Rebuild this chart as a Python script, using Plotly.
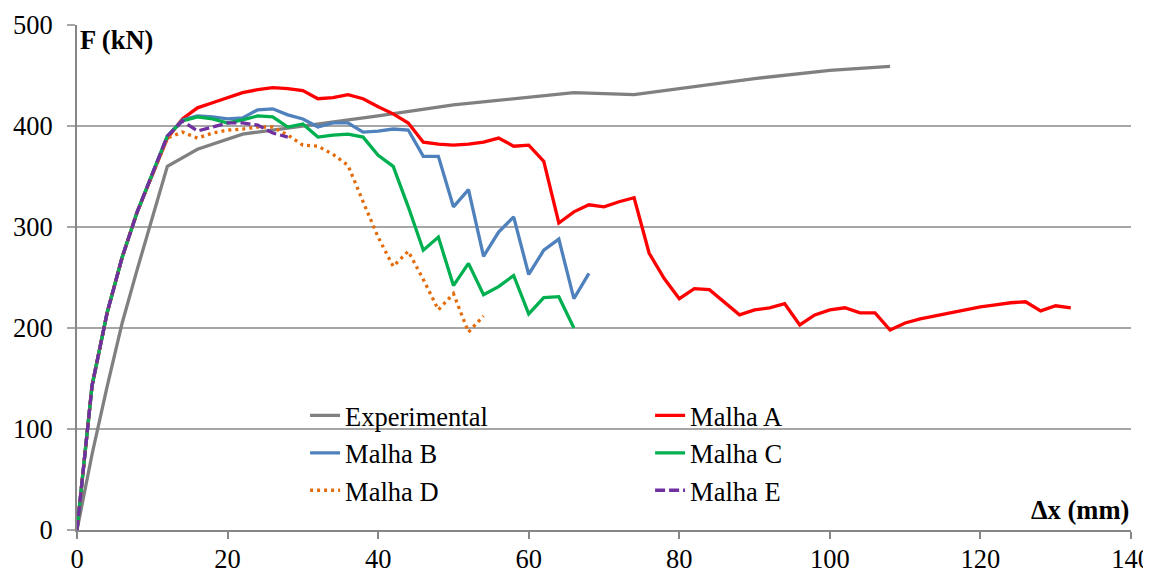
import plotly.graph_objects as go

# ---------------- data ----------------
exp_x = [0, 2, 4, 6, 8, 10, 12, 16, 20, 22, 26, 30, 40, 50, 60, 66, 74, 80, 90, 100, 108]
exp_y = [0, 75, 142, 205, 258, 308, 360, 377, 387, 392, 396, 400, 410, 421, 429, 433, 431, 437, 447, 455, 459]

a_x = [0, 2, 4, 6, 8, 10, 12, 14, 16, 18, 20, 22, 24, 26, 28, 30, 32, 34, 36, 38, 40,
       42, 44, 46, 48, 50, 52, 54, 56, 58, 60, 62, 64, 66, 68, 70, 72, 74, 76, 78, 80,
       82, 84, 86, 88, 90, 92, 94, 96, 98, 100, 102, 104, 106, 108, 110, 112, 114, 116,
       118, 120, 122, 124, 126, 128, 130, 132]
a_y = [0, 143, 215, 270, 315, 352, 388, 407, 418, 423, 428, 433, 436, 438, 437, 435, 427, 428, 431, 427, 419,
       412, 403, 384, 382, 381, 382, 384, 388, 380, 381, 365, 304, 315, 322, 320, 325, 329, 274, 249, 229,
       239, 238, 225, 213, 218, 220, 224, 203, 213, 218, 220, 215, 215, 198, 205, 209, 212, 215,
       218, 221, 223, 225, 226, 217, 222, 220]

b_x = [0, 2, 4, 6, 8, 10, 12, 14, 16, 18, 20, 22, 24, 26, 28, 30, 32, 34, 36, 38, 40,
       42, 44, 46, 48, 50, 52, 54, 56, 58, 60, 62, 64, 66, 68]
b_y = [0, 143, 215, 270, 315, 352, 390, 406, 410, 409, 407, 408, 416, 417, 411, 407, 399, 403, 403, 394, 395,
       397, 396, 370, 370, 320, 337, 271, 295, 310, 253, 277, 288, 229, 254]

c_x = [0, 2, 4, 6, 8, 10, 12, 14, 16, 18, 20, 22, 24, 26, 28, 30, 32, 34, 36, 38, 40,
       42, 44, 46, 48, 50, 52, 54, 56, 58, 60, 62, 64, 66]
c_y = [0, 143, 215, 270, 315, 352, 390, 405, 409, 407, 403, 406, 410, 409, 399, 402, 389, 391, 392, 389, 371,
       360, 320, 277, 290, 242, 264, 233, 241, 252, 214, 230, 231, 200]

d_x = [0, 2, 4, 6, 8, 10, 12, 14, 16, 18, 20, 22, 24, 26, 28, 30, 32, 34, 36, 38, 40,
       42, 44, 46, 48, 50, 52, 54]
d_y = [0, 143, 215, 270, 315, 352, 388, 394, 388, 393, 396, 397, 399, 399, 391, 381, 380, 372, 361, 325, 290,
       261, 276, 248, 218, 234, 196, 212]

e_x = [0, 2, 4, 6, 8, 10, 12, 14, 16, 18, 20, 22, 24, 26, 28]
e_y = [0, 143, 215, 270, 315, 352, 390, 405, 395, 399, 403, 403, 401, 393, 389]

names = ["Experimental", "Malha A", "Malha B", "Malha C", "Malha D", "Malha E"]
x_ticks = [0, 20, 40, 60, 80, 100, 120, 140]
y_ticks = [0, 100, 200, 300, 400, 500]

# ---------------- figure ----------------
FONT = "Liberation Serif, Times New Roman, serif"
FS = 26.5
fig = go.Figure()

series = [
    (exp_x, exp_y, "#808080", "solid", "col1"),
    (a_x, a_y, "#FF0000", "solid", "col2"),
    (b_x, b_y, "#4F81BD", "solid", "col1"),
    (c_x, c_y, "#00B050", "solid", "col2"),
    (d_x, d_y, "#E46C0A", "3px,4px", "col1"),
    (e_x, e_y, "#7030A0", "10px,4px", "col2"),
]
for (xs, ys, col, dash, grp), nm in zip(series, names):
    fig.add_trace(go.Scatter(x=xs, y=ys, mode="lines", name=nm, legendgroup=grp,
                             line=dict(color=col, width=3.3, dash=dash)))

# the page body has an 8px offset, so the figure is 8px smaller and margins shifted
fig.update_layout(
    width=1143, height=564,
    margin=dict(l=69, r=20, t=17, b=42, autoexpand=False),
    paper_bgcolor="white", plot_bgcolor="white",
    font=dict(family=FONT, size=FS, color="black"),
    showlegend=True,
    legend=dict(orientation="h", x=0.2164, xanchor="left", y=0.274, yanchor="top",
                traceorder="grouped", tracegroupgap=0,
                bgcolor="rgba(0,0,0,0)", entrywidth=300, entrywidthmode="pixels",
                font=dict(family=FONT, size=FS, color="black")),
    xaxis=dict(range=[0, 140], tickvals=x_ticks, showgrid=False, zeroline=False,
               showline=True, linecolor="#868686", linewidth=2,
               ticks="outside", ticklen=7, tickwidth=2, tickcolor="#868686",
               ticklabelstandoff=-3,
               tickfont=dict(family=FONT, size=FS, color="black")),
    yaxis=dict(range=[0, 500], tickvals=y_ticks, showgrid=True, gridcolor="#A6A6A6", gridwidth=2,
               zeroline=False, showline=True, linecolor="#868686", linewidth=2,
               ticks="outside", ticklen=8, tickwidth=2, tickcolor="#A6A6A6",
               ticklabelstandoff=9,
               tickfont=dict(family=FONT, size=FS, color="black")),
)

# white patch hiding the gridline behind the legend
fig.add_shape(type="rect", xref="paper", yref="paper",
              x0=(205 - 77) / 1054, x1=(897 - 77) / 1054,
              y0=(530 - 512) / 505, y1=(530 - 396) / 505,
              fillcolor="white", line=dict(width=0), layer="between")

fig.add_annotation(xref="paper", yref="paper", x=0, y=1.01, xanchor="left", yanchor="top",
                   text="<b>F (kN)</b>", showarrow=False, bgcolor="white",
                   width=86, height=34, align="left", borderpad=2,
                   font=dict(family=FONT, size=FS, color="black"))
fig.add_annotation(xref="paper", yref="paper", x=1, y=(530 - 510) / 505, xanchor="right", yanchor="middle",
                   text="<b>Δx (mm)</b>", showarrow=False, bgcolor="white",
                   font=dict(family=FONT, size=FS, color="black"))

fig.write_html("out.html")
